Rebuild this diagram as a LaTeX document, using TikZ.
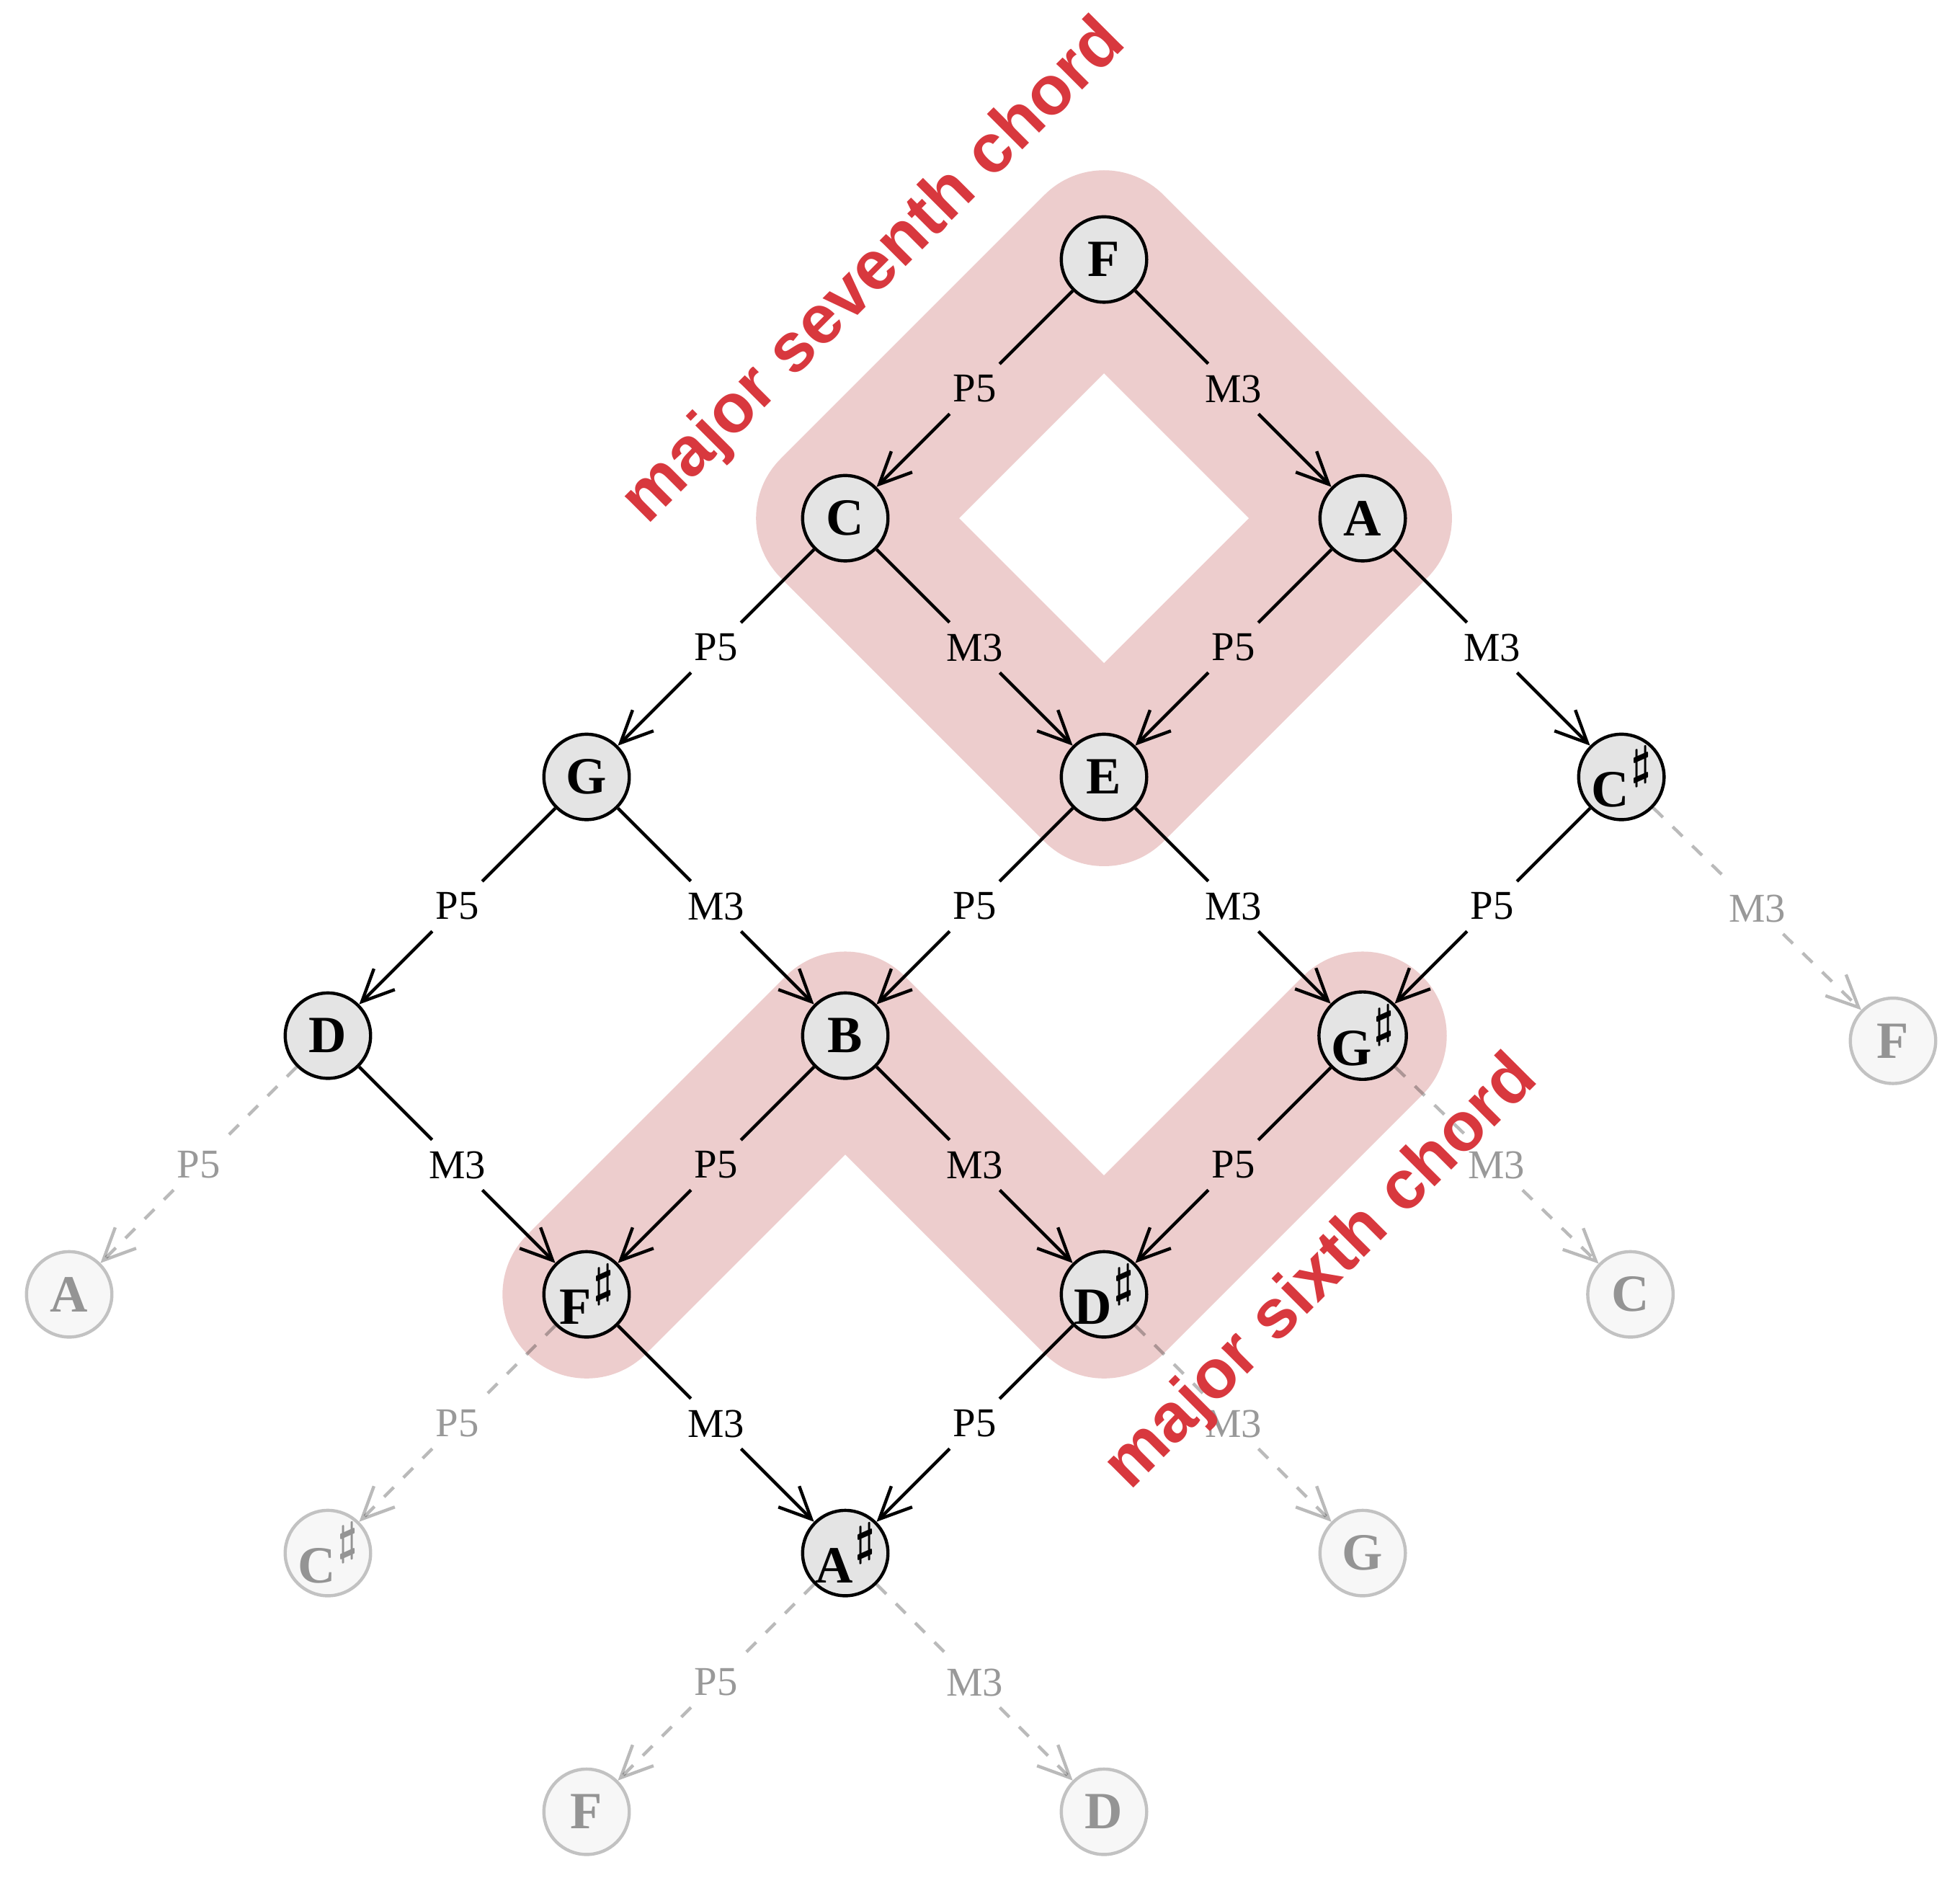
\documentclass[tikz,border=0pt]{standalone}
\usepackage{fontspec}
\setmainfont{Liberation Serif}
\newfontfamily\chordfont{Liberation Sans}
\usetikzlibrary{arrows.meta,calc}
\definecolor{bandpink}{RGB}{237,205,205}
\definecolor{chordred}{RGB}{216,56,62}
\definecolor{notefill}{RGB}{228,228,228}
\newcommand\shp{\kern0.4pt\raisebox{6.3pt}{\fontsize{9.6}{9.6}\selectfont\boldmath$\sharp$}}
\newcommand\intedge[4]{%
  \node[lab] (#4) at ($(#1)!0.5!(#2)$) {#3};
  \draw[edgeline] (#1) -- (#4);
  \draw[arr] (#4) -- (#2);
}
\newcommand\ghostedge[4]{%
  \node[ghostlab] (#4) at ($(#1)!0.5!(#2)$) {#3};
  \draw[gedge] (#1) -- (#4);
  \draw[garr] (#4) -- (#2);
}
\begin{document}
\begin{tikzpicture}[
  note/.style={circle, draw=black, line width=0.7pt, fill=notefill, minimum size=0.66cm, inner sep=0pt, font=\fontsize{11.5}{13}\selectfont\bfseries},
  ghost/.style={circle, draw=black!24, line width=0.7pt, fill=black!3, text=black!42, minimum size=0.66cm, inner sep=0pt, font=\fontsize{11.5}{13}\selectfont\bfseries},
  lab/.style={inner sep=2.3pt, font=\fontsize{9}{10}\selectfont},
  ghostlab/.style={lab, text=black!40},
  edgeline/.style={line width=0.7pt, draw=black},
  arr/.style={edgeline, -{Straight Barb[length=7pt,width=6.5pt]}},
  gedge/.style={line width=0.7pt, draw=black, draw opacity=0.27, dashed},
  garr/.style={gedge, -{Straight Barb[length=7pt,width=6.5pt]}},
  bandline/.style={line width=1.3cm, draw=bandpink, line join=round, line cap=round},
  chordlab/.style={text=chordred, font=\fontsize{15.2}{18}\selectfont\chordfont\bfseries, rotate=45, inner sep=0pt}
]
\fill[white] (-8.535,-12.546) rectangle (6.618,2.006);
\useasboundingbox (-8.535,-12.546) rectangle (6.618,2.006);

% chord bands
\coordinate (b7a) at (0,0.04);
\coordinate (b7b) at (2.04,-2);
\coordinate (b7c) at (0,-4.04);
\coordinate (b7d) at (-2.04,-2);
\draw[bandline] (b7a) -- (b7b) -- (b7c) -- (b7d) -- cycle;
\coordinate (b6a) at (-4,-8);
\coordinate (b6b) at (-2,-6);
\coordinate (b6c) at (0,-8);
\coordinate (b6d) at (2,-6);
\draw[bandline] (b6a) -- (b6b) -- (b6c) -- (b6d);

% notes
\node[note] (F)  at (0,0)   {F};
\node[note] (C)  at (-2,-2) {C};
\node[note] (A)  at (2,-2)  {A};
\node[note] (G)  at (-4,-4) {G};
\node[note] (E)  at (0,-4)  {E};
\node[note] (Cs) at (4,-4)  {C\shp};
\node[note] (D)  at (-6,-6) {D};
\node[note] (B)  at (-2,-6) {B};
\node[note] (Gs) at (2,-6)  {G\shp};
\node[note] (Fs) at (-4,-8) {F\shp};
\node[note] (Ds) at (0,-8)  {D\shp};
\node[note] (As) at (-2,-10) {A\shp};

\node[ghost] (gF1) at (6.1,-6.04) {F};
\node[ghost] (gA)  at (-8,-8)     {A};
\node[ghost] (gC)  at (4.07,-8)   {C};
\node[ghost] (gCs) at (-6,-10)    {C\shp};
\node[ghost] (gG)  at (2,-10)     {G};
\node[ghost] (gF2) at (-4,-12)    {F};
\node[ghost] (gD)  at (0,-12)     {D};

% intervals
\intedge{F}{C}{P5}{l1}
\intedge{F}{A}{M3}{l2}
\intedge{C}{G}{P5}{l3}
\intedge{C}{E}{M3}{l4}
\intedge{A}{E}{P5}{l5}
\intedge{A}{Cs}{M3}{l6}
\intedge{G}{D}{P5}{l7}
\intedge{G}{B}{M3}{l8}
\intedge{E}{B}{P5}{l9}
\intedge{E}{Gs}{M3}{l10}
\intedge{Cs}{Gs}{P5}{l11}
\intedge{D}{Fs}{M3}{l12}
\intedge{B}{Fs}{P5}{l13}
\intedge{B}{Ds}{M3}{l14}
\intedge{Gs}{Ds}{P5}{l15}
\intedge{Fs}{As}{M3}{l16}
\intedge{Ds}{As}{P5}{l17}

\ghostedge{Cs}{gF1}{M3}{g1}
\ghostedge{D}{gA}{P5}{g2}
\ghostedge{Gs}{gC}{M3}{g3}
\ghostedge{Fs}{gCs}{P5}{g4}
\ghostedge{Ds}{gG}{M3}{g5}
\ghostedge{As}{gF2}{P5}{g6}
\ghostedge{As}{gD}{M3}{g7}

% chord names
\node[chordlab] (sev) at (-1.77,-0.10) {major seventh chord};
\node[chordlab] (six) at (1.69,-7.84) {major sixth chord};
\end{tikzpicture}
\end{document}
